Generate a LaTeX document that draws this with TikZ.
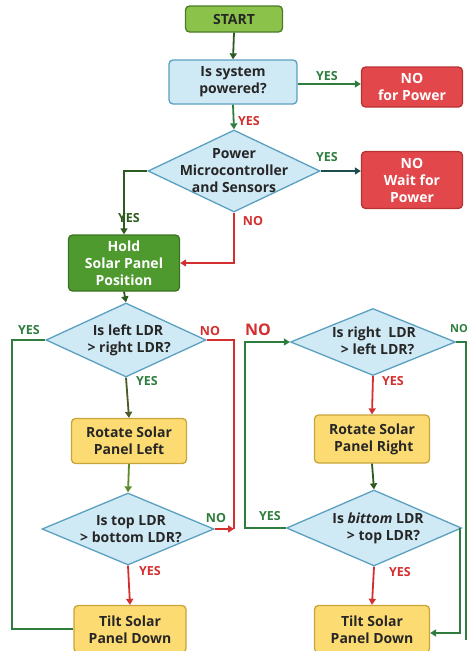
\documentclass[tikz,border=0pt]{standalone}
\usepackage{fontspec}
\setmainfont{Open Sans}
\usetikzlibrary{shapes.geometric,arrows.meta}
\definecolor{startfill}{HTML}{8BC34A}
\definecolor{startdraw}{HTML}{4A7A2A}
\definecolor{bluefill}{HTML}{CFE9F5}
\definecolor{bluedraw}{HTML}{5AA0C0}
\definecolor{redfill}{HTML}{E2484B}
\definecolor{reddraw}{HTML}{B83232}
\definecolor{holdfill}{HTML}{4E9A2F}
\definecolor{holddraw}{HTML}{3A7420}
\definecolor{yelfill}{HTML}{FCDC72}
\definecolor{yeldraw}{HTML}{C9A43A}
\definecolor{lgreen}{HTML}{2E7D3E}
\definecolor{dgreen}{HTML}{2D5A1E}
\definecolor{tealc}{HTML}{1E4D4D}
\definecolor{olive}{HTML}{4A5A2A}
\definecolor{oliveg}{HTML}{5A8A2A}
\definecolor{lred}{HTML}{D32F2F}
\tikzset{
  txt/.style={font=\bfseries\fontsize{14}{17}\selectfont, align=center, text=black!85, inner sep=0pt},
  box/.style={rounded corners=4pt, line width=1.3pt, inner sep=0pt},
  startbox/.style={box, fill=startfill, draw=startdraw},
  bluebox/.style={box, fill=bluefill, draw=bluedraw},
  redbox/.style={box, fill=redfill, draw=reddraw},
  holdbox/.style={box, fill=holdfill, draw=holddraw},
  yelbox/.style={box, fill=yelfill, draw=yeldraw},
  dia/.style={diamond, fill=bluefill, draw=bluedraw, line width=1.3pt, inner sep=0pt},
  conn/.style={line width=1.8pt, -{Triangle[length=6pt,width=7pt]}},
  plain/.style={line width=1.8pt},
  lab/.style={font=\bfseries\fontsize{12.5}{14}\selectfont, inner sep=0pt},
}
\begin{document}
\begin{tikzpicture}[x=1pt,y=-1pt]
\useasboundingbox (0,0) rectangle (469,651);
% boxes
\node[startbox, minimum width=97pt, minimum height=26pt] (start) at (234,19) {};
\node[txt] (startt) at (start) {START};
\node[bluebox, minimum width=128pt, minimum height=44pt] (sys) at (233,82) {};
\node[txt] (syst) at (sys) {Is system\\powered?};
\node[redbox, minimum width=101pt, minimum height=40pt] (nopow) at (412,87) {};
\node[txt, text=white] (nopowt) at (nopow) {NO\\for Power};
\node[dia, minimum width=172pt, minimum height=82pt] (d1) at (234,171) {};
\node[txt] (d1t) at (234,171) {Power\\Microcontroller\\and Sensors};
\node[redbox, minimum width=101pt, minimum height=57pt] (wait) at (412,180) {};
\node[txt, text=white] (waitt) at (wait) {NO\\Wait for\\Power};
\node[holdbox, minimum width=111pt, minimum height=56pt] (hold) at (124,263) {};
\node[txt, text=white] (holdt) at (hold) {Hold\\Solar Panel\\Position};
\node[dia, minimum width=160pt, minimum height=74pt] (d2) at (126,340) {};
\node[txt] (d2t) at (128,340) {Is left LDR\\\,> right LDR?};
\node[yelbox, minimum width=115pt, minimum height=45pt] (rotL) at (129,441) {};
\node[txt] (rotLt) at (rotL) {Rotate Solar\\Panel Left};
\node[dia, minimum width=172pt, minimum height=72pt] (d3) at (128,529) {};
\node[txt] (d3t) at (131,529) {Is top LDR\\> bottom LDR?};
\node[yelbox, minimum width=112pt, minimum height=47pt] (tiltL) at (130,629) {};
\node[txt] (tiltLt) at (130,630) {Tilt Solar\\Panel Down};
% right column
\node[dia, minimum width=165pt, minimum height=67pt] (d4) at (373,342) {};
\node[txt] (d4t) at (374,341) {Is right\ \ LDR\\\ \ > left LDR?};
\node[yelbox, minimum width=115pt, minimum height=48pt] (rotR) at (372,439) {};
\node[txt] (rotRt) at (rotR) {Rotate Solar\\\ Panel Right};
\node[dia, minimum width=175pt, minimum height=76pt] (d5) at (374,528) {};
\node[txt] (d5t) at (378,528) {Is {\itshape bittom} LDR\\\ \ \ > top LDR?};
\node[yelbox, minimum width=115pt, minimum height=47pt] (tiltR) at (372,629) {};
\node[txt] (tiltRt) at (372,630) {Tilt Solar\\Panel Down};
% merge / bend points
\coordinate (m1) at (234,529);
\coordinate (cR) at (466,640);
% connectors
\draw[conn, dgreen] (start.south) -- (sys.north);
\draw[conn, lgreen] (sys.east) ++(0,2) -- (nopow.west |- 0,84);
\draw[conn, lgreen] (sys.south) -- (d1.north);
\draw[conn, tealc] (d1.east) -- (d1.east -| wait.west);
\draw[conn, dgreen] (d1.west) -| (hold.north);
\draw[conn, lred] (d1.south) |- (hold.east);
\draw[conn, dgreen] (hold.south) -- (d2.north);
\draw[plain, lgreen] (d2.west) -- ++(-33,0) |- (tiltL.west);
\draw[plain, lred] (d2.east) -| (m1);
\draw[conn, lred] (d3.east) -- (m1);
\draw[conn, olive] (d2.south) -- (rotL.north);
\draw[conn, oliveg] (rotL.south) -- (d3.north);
\draw[conn, lred] (d3.south) -- (tiltL.north);
\draw[conn, lgreen] (d5.west) -- ++(-41,0) |- (d4.west);
\draw[conn, lred] (d4.south) -- (rotR.north);
\draw[conn, dgreen] (rotR.south) -- (d5.north);
\draw[conn, lred] (d5.south) -- (tiltR.north);
\draw[plain, lgreen] (d4.east) -| (cR);
\draw[conn, lgreen] (d5.east) ++(-2,0) |- (tiltR.east |- 0,633);
% labels
\node[lab, text=lgreen] (l1) at (327,76) {YES};
\node[lab, text=lred] (l2) at (249,121) {YES};
\node[lab, text=lgreen] (l3) at (327,157) {YES};
\node[lab, text=dgreen] (l4) at (129,218) {YES};
\node[lab, text=lred] (l5) at (253,221) {NO};
\node[lab, text=lgreen] (l6) at (29,330) {YES};
\node[lab, text=lred] (l7) at (210,331) {NO};
\node[lab, text=lred, font=\bfseries\fontsize{16}{18}\selectfont] (l8) at (258,330) {NO};
\node[lab, text=lgreen, anchor=east, font=\bfseries\fontsize{11}{13}\selectfont] (l9) at (468,329) {NO};
\node[lab, text=lgreen] (l10) at (147,381) {YES};
\node[lab, text=lred] (l11) at (393,381) {YES};
\node[lab, text=lgreen] (l12) at (216,518) {NO};
\node[lab, text=lgreen] (l13) at (270,516) {YES};
\node[lab, text=lred] (l14) at (150,571) {YES};
\node[lab, text=lred] (l15) at (400,572) {YES};
\end{tikzpicture}
\end{document}
